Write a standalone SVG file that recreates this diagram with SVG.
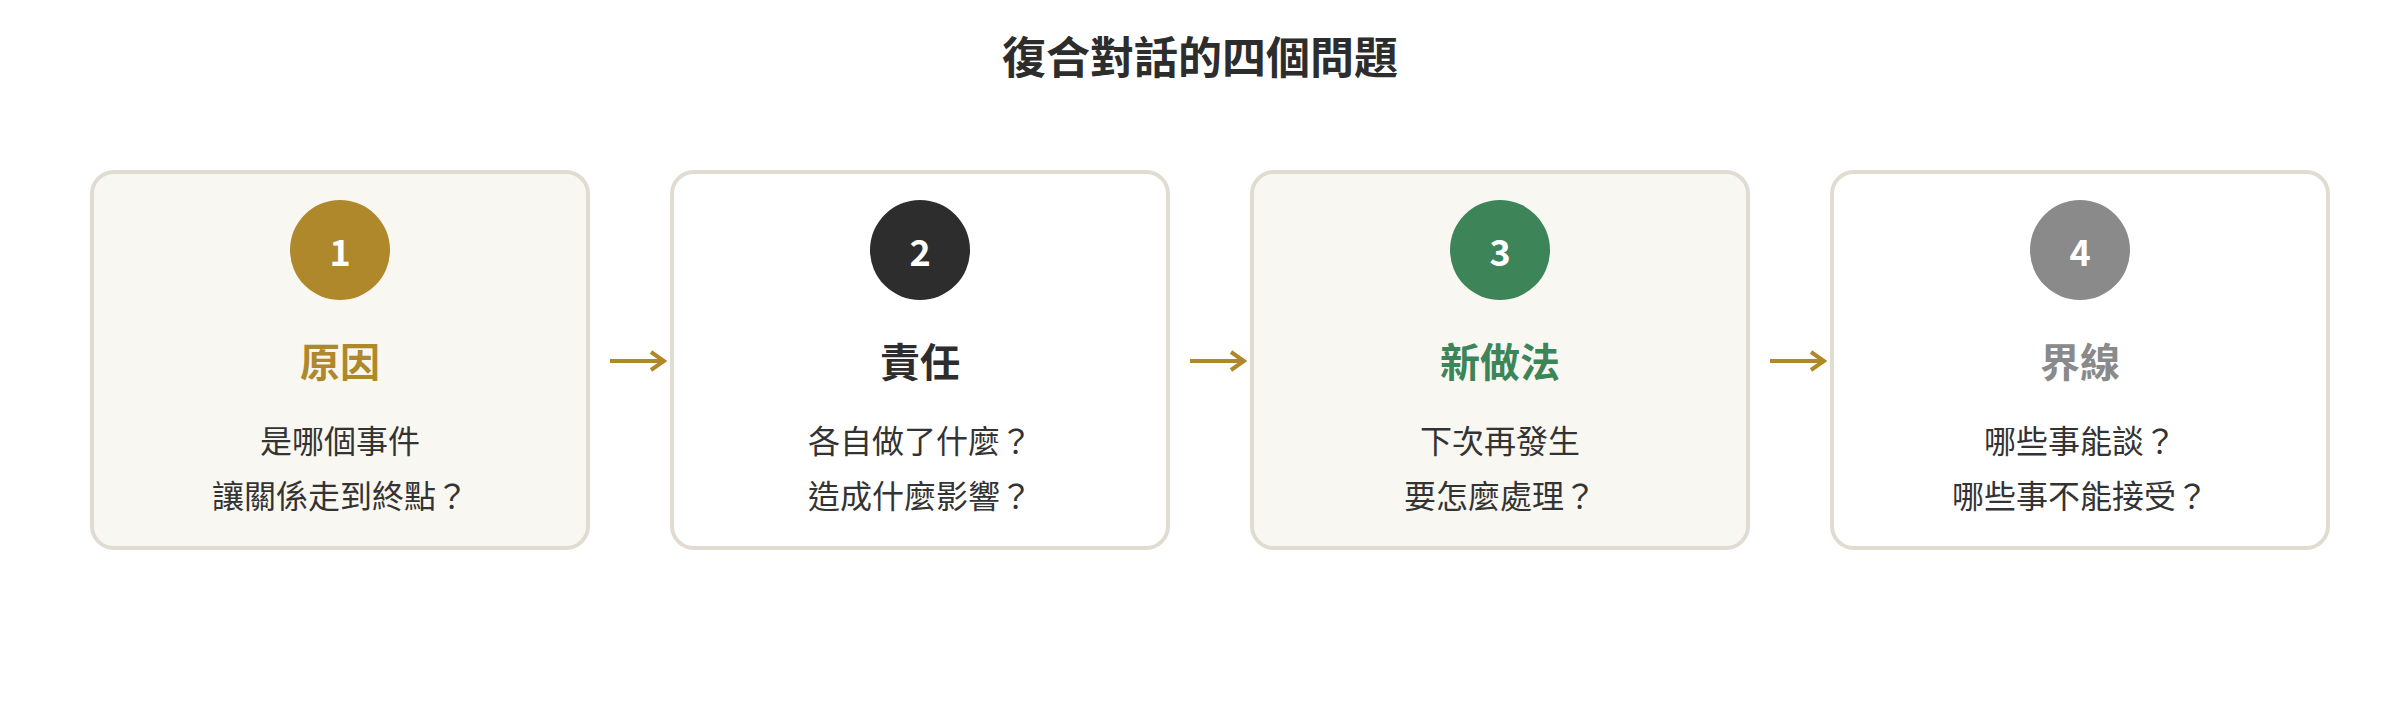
<svg xmlns="http://www.w3.org/2000/svg" width="2400" height="720" viewBox="0 0 2400 720">
<defs>
<style>
text{font-family:"Noto Sans CJK TC","Noto Sans CJK SC",sans-serif;text-anchor:middle}
.title{font-size:44px;font-weight:700;fill:#2d2d2d}
.card{stroke:#e0dcd2;stroke-width:4}
.alt{fill:#f9f7f1}
.plain{fill:#ffffff}
.num{font-size:36px;font-weight:700;fill:#ffffff}
.head{font-size:40px;font-weight:700}
.body{font-size:32px;fill:#333333}
.conn{stroke:#b0882c;stroke-width:4;fill:none}
</style>
<marker id="arr" viewBox="0 0 20 24" refX="18" refY="12" markerWidth="20" markerHeight="24" markerUnits="userSpaceOnUse" orient="auto">
<path d="M4,3 L17,12 L4,21" fill="none" stroke="#b0882c" stroke-width="4" stroke-linejoin="miter"/>
</marker>
</defs>
<rect width="2400" height="720" fill="#ffffff"/>
<text class="title" x="1200" y="74">復合對話的四個問題</text>
<g id="node1">
<rect class="card alt" x="92" y="172" width="496" height="376" rx="22"/>
<circle cx="340" cy="250" r="50" fill="#b0882c"/>
<text class="num" x="340" y="266">1</text>
<text class="head" x="340" y="377" fill="#b0882c">原因</text>
<text class="body" x="340" y="453">是哪個事件</text>
<text class="body" x="340" y="508">讓關係走到終點？</text>
</g>
<g id="node2">
<rect class="card plain" x="672" y="172" width="496" height="376" rx="22"/>
<circle cx="920" cy="250" r="50" fill="#2d2d2d"/>
<text class="num" x="920" y="266">2</text>
<text class="head" x="920" y="377" fill="#2d2d2d">責任</text>
<text class="body" x="920" y="453">各自做了什麼？</text>
<text class="body" x="920" y="508">造成什麼影響？</text>
</g>
<g id="node3">
<rect class="card alt" x="1252" y="172" width="496" height="376" rx="22"/>
<circle cx="1500" cy="250" r="50" fill="#3d8558"/>
<text class="num" x="1500" y="266">3</text>
<text class="head" x="1500" y="377" fill="#3d8558">新做法</text>
<text class="body" x="1500" y="453">下次再發生</text>
<text class="body" x="1500" y="508">要怎麼處理？</text>
</g>
<g id="node4">
<rect class="card plain" x="1832" y="172" width="496" height="376" rx="22"/>
<circle cx="2080" cy="250" r="50" fill="#8a8a8a"/>
<text class="num" x="2080" y="266">4</text>
<text class="head" x="2080" y="377" fill="#8a8a8a">界線</text>
<text class="body" x="2080" y="453">哪些事能談？</text>
<text class="body" x="2080" y="508">哪些事不能接受？</text>
</g>
<g id="connectors">
<line class="conn" x1="610" y1="361" x2="665" y2="361" marker-end="url(#arr)"/>
<line class="conn" x1="1190" y1="361" x2="1245" y2="361" marker-end="url(#arr)"/>
<line class="conn" x1="1770" y1="361" x2="1825" y2="361" marker-end="url(#arr)"/>
</g>
</svg>
